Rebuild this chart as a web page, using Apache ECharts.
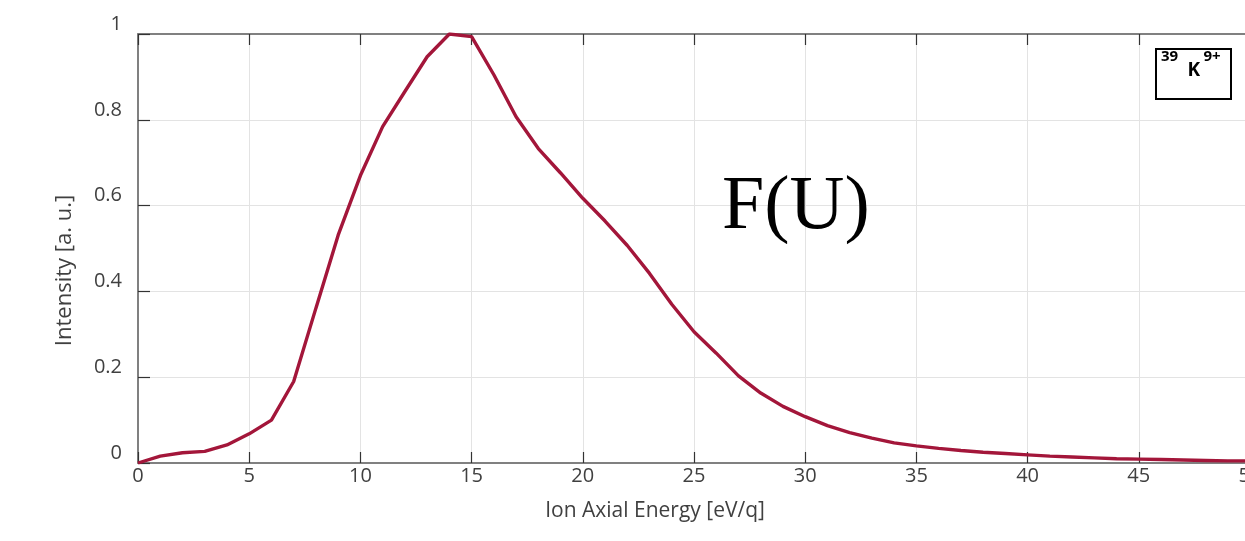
<!DOCTYPE html>
<html>
<head>
<meta charset="utf-8">
<script src="https://cdn.jsdelivr.net/npm/echarts@6/dist/echarts.min.js"></script>
<style>
html,body{margin:0;padding:0;background:#fff;}
#chart{width:1245px;height:541px;}
</style>
</head>
<body>
<div id="chart"></div>
<script>
const energies = [0,1,2,3,4,5,6,7,8,9,10,11,12,13,14,15,16,17,18,19,20,21,22,23,24,25,26,27,28,29,30,31,32,33,34,35,36,37,38,39,40,41,42,43,44,45,46,47,48,49,50];
const intensity = [0,0.016,0.024,0.027,0.042,0.068,0.100,0.190,0.361,0.531,0.670,0.784,0.866,0.947,1.0,0.994,0.905,0.807,0.733,0.676,0.617,0.564,0.507,0.442,0.370,0.306,0.256,0.203,0.163,0.132,0.108,0.087,0.071,0.058,0.047,0.040,0.034,0.029,0.025,0.022,0.019,0.016,0.014,0.012,0.010,0.009,0.008,0.007,0.006,0.005,0.005];
const xTicks = {min:0, max:50, interval:5};
const yTicks = {min:0, max:1, interval:0.2};
const xName = 'Ion Axial Energy [eV/q]';
const yName = 'Intensity [a. u.]';
const annotation = 'F(U)';

const series = energies.map((e,i)=>[e,intensity[i]]);
const labelFont = '"Open Sans", "Noto Sans", sans-serif';
const chart = echarts.init(document.getElementById('chart'));
chart.setOption({
  animation:false,
  backgroundColor:'#fff',
  grid:{left:138,width:1112,top:34,height:429,containLabel:false,outerBoundsMode:'none'},
  xAxis:[{
    type:'value', min:xTicks.min, max:xTicks.max, interval:xTicks.interval,
    name:xName, nameLocation:'middle', nameGap:38,
    nameTextStyle:{fontFamily:labelFont,fontSize:21,color:'#404040',padding:[0,78,0,0]},
    axisLine:{show:true,onZero:false,lineStyle:{color:'#808080',width:2}},
    axisTick:{show:true,inside:true,length:11,lineStyle:{color:'#333',width:1.2}},
    axisLabel:{fontFamily:labelFont,fontSize:20,color:'#404040',margin:3},
    splitLine:{show:true,lineStyle:{color:'#e3e3e3',width:1}}
  },{
    type:'value', position:'top', min:xTicks.min, max:xTicks.max, interval:xTicks.interval,
    axisLine:{show:true,onZero:false,lineStyle:{color:'#808080',width:2}},
    axisTick:{show:true,inside:true,length:11,lineStyle:{color:'#333',width:1.2}},
    axisLabel:{show:false}, splitLine:{show:false}
  }],
  yAxis:{
    type:'value', min:yTicks.min, max:yTicks.max, interval:yTicks.interval,
    name:yName, nameLocation:'middle', nameGap:62,
    nameTextStyle:{fontFamily:labelFont,fontSize:22,color:'#404040',padding:[0,44,0,0]},
    axisLine:{show:true,onZero:false,lineStyle:{color:'#808080',width:2}},
    axisTick:{show:true,inside:true,length:12,lineStyle:{color:'#333',width:1.2}},
    axisLabel:{fontFamily:labelFont,fontSize:20,color:'#404040',margin:16,verticalAlign:'bottom',
      formatter:v=>String(Math.round(v*10)/10)},
    splitLine:{show:true,lineStyle:{color:'#e3e3e3',width:1}}
  },
  series:[{
    type:'line', data:series, showSymbol:false, smooth:false,
    lineStyle:{color:'#A3163A',width:3.4}, itemStyle:{color:'#A3163A'}, z:5
  }],
  graphic:[
    {type:'text', left:722, top:170, style:{text:annotation, font:'76px "Liberation Serif", "DejaVu Serif", serif', fill:'#000'}, z:10},
    {type:'rect', shape:{x:1156,y:49,width:75,height:50}, style:{fill:'#fff',stroke:'#000',lineWidth:2}, z:10},
    {type:'text', left:1161, top:49, style:{
      text:'{sup|39} {k|K} {sup|9+}',
      rich:{
        sup:{font:'bold 15px "Open Sans", "Noto Sans", sans-serif',fill:'#000',verticalAlign:'top',padding:[0,0,10,0]},
        k:{font:'bold 19px "Open Sans", "Noto Sans", sans-serif',fill:'#000',padding:[12,0,0,6]}
      }}, z:11}
  ]
});
</script>
</body>
</html>
